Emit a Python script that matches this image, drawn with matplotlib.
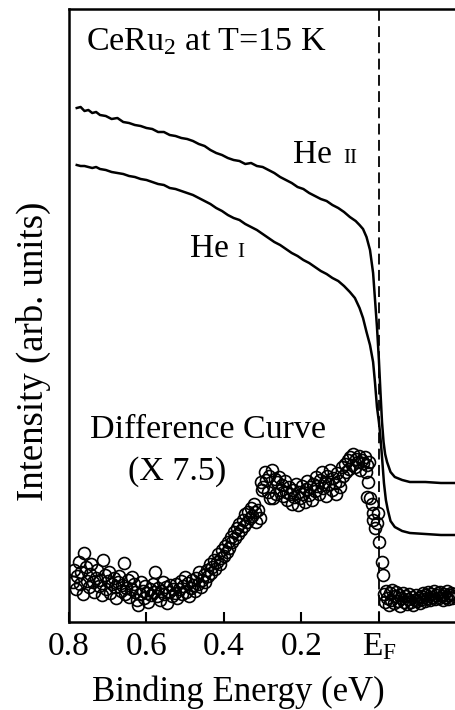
import matplotlib
matplotlib.use("Agg")
import matplotlib.pyplot as plt
import numpy as np

plt.rcParams["font.family"] = ["Liberation Serif", "DejaVu Serif"]
plt.rcParams["mathtext.fontset"] = "custom"
plt.rcParams["mathtext.rm"] = "Liberation Serif"
plt.rcParams["mathtext.it"] = "Liberation Serif:italic"

# He II spectrum (binding energy in eV, intensity in arb. units)
he2_energy = [0.780, 0.770, 0.760, 0.750, 0.740, 0.730, 0.720, 0.705, 0.690, 0.675,
              0.660, 0.645, 0.630, 0.615, 0.600, 0.585, 0.570, 0.555, 0.540, 0.525,
              0.510, 0.495, 0.480, 0.465, 0.450, 0.435, 0.420, 0.405, 0.390, 0.375,
              0.360, 0.345, 0.330, 0.315, 0.300, 0.285, 0.270, 0.255, 0.240, 0.225,
              0.210, 0.195, 0.180, 0.165, 0.150, 0.135, 0.120, 0.105, 0.090, 0.075,
              0.060, 0.050, 0.041, 0.032, 0.023, 0.015, 0.010, 0.005, 0.000, -0.004,
              -0.008, -0.012, -0.016, -0.021, -0.030, -0.041, -0.060, -0.080, -0.120,
              -0.160, -0.199]
he2_int = [514, 515, 511, 512, 509, 510, 507, 506, 503, 504,
           500, 499, 497, 496, 494, 493, 490, 490, 487, 486,
           484, 483, 481, 478, 476, 472, 469, 467, 464, 462,
           461, 458, 459, 456, 455, 452, 449, 445, 442, 439,
           435, 433, 429, 426, 423, 421, 417, 414, 410, 405,
           401, 397, 393, 385, 372, 349, 322, 295, 262, 230,
           200, 180, 168, 160, 150, 145, 142, 140, 140,
           139, 139]

# He I spectrum
he1_energy = [0.780, 0.770, 0.760, 0.750, 0.740, 0.730, 0.720, 0.705, 0.690, 0.675,
              0.660, 0.645, 0.630, 0.615, 0.600, 0.585, 0.570, 0.555, 0.540, 0.525,
              0.510, 0.495, 0.480, 0.465, 0.450, 0.435, 0.420, 0.405, 0.390, 0.375,
              0.360, 0.345, 0.330, 0.315, 0.300, 0.285, 0.270, 0.255, 0.240, 0.225,
              0.210, 0.195, 0.180, 0.165, 0.150, 0.135, 0.120, 0.105, 0.090, 0.075,
              0.062, 0.050, 0.041, 0.032, 0.023, 0.015, 0.010, 0.005, 0.000, -0.003,
              -0.008, -0.013, -0.018, -0.023, -0.030, -0.041, -0.060, -0.080, -0.120,
              -0.160, -0.199]
he1_int = [457, 456, 456, 455, 454, 455, 453, 452, 450, 449,
           448, 446, 445, 443, 442, 440, 438, 437, 434, 433,
           431, 429, 427, 424, 421, 418, 414, 411, 407, 404,
           402, 398, 395, 392, 388, 384, 380, 377, 373, 369,
           366, 362, 359, 355, 351, 348, 344, 341, 336, 330,
           324, 314, 304, 290, 277, 260, 239, 215, 200, 189,
           165, 139, 122, 112, 101, 95, 91, 89, 88,
           87, 87]

# difference curve (He II - He I, x 7.5)
diff_energy = [0.790, 0.786, 0.783, 0.779, 0.775, 0.771, 0.768, 0.764, 0.761, 0.757,
               0.753, 0.749, 0.746, 0.742, 0.738, 0.735, 0.731, 0.727, 0.723, 0.719,
               0.716, 0.712, 0.708, 0.704, 0.700, 0.697, 0.693, 0.689, 0.685, 0.682,
               0.678, 0.674, 0.670, 0.667, 0.663, 0.659, 0.655, 0.652, 0.648, 0.644,
               0.640, 0.637, 0.633, 0.629, 0.625, 0.622, 0.618, 0.614, 0.610, 0.607,
               0.603, 0.599, 0.595, 0.592, 0.588, 0.584, 0.580, 0.577, 0.573, 0.569,
               0.565, 0.562, 0.558, 0.554, 0.550, 0.546, 0.543, 0.539, 0.535, 0.531,
               0.527, 0.524, 0.520, 0.516, 0.512, 0.509, 0.505, 0.501, 0.497, 0.494,
               0.490, 0.486, 0.482, 0.479, 0.475, 0.471, 0.467, 0.464, 0.460, 0.456,
               0.452, 0.448, 0.445, 0.441, 0.437, 0.434, 0.430, 0.426, 0.422, 0.419,
               0.415, 0.411, 0.408, 0.404, 0.400, 0.397, 0.393, 0.389, 0.386, 0.382,
               0.378, 0.375, 0.371, 0.367, 0.364, 0.360, 0.356, 0.352, 0.349, 0.345,
               0.341, 0.338, 0.334, 0.330, 0.327, 0.323, 0.319, 0.316, 0.312, 0.308,
               0.305, 0.302, 0.298, 0.295, 0.291, 0.287, 0.284, 0.280, 0.276, 0.273,
               0.269, 0.265, 0.262, 0.258, 0.254, 0.251, 0.247, 0.243, 0.240, 0.236,
               0.232, 0.229, 0.225, 0.221, 0.218, 0.214, 0.210, 0.207, 0.203, 0.199,
               0.196, 0.192, 0.188, 0.185, 0.181, 0.177, 0.174, 0.170, 0.166, 0.162,
               0.159, 0.155, 0.151, 0.148, 0.144, 0.140, 0.137, 0.133, 0.129, 0.125,
               0.122, 0.118, 0.114, 0.111, 0.107, 0.103, 0.100, 0.096, 0.092, 0.088,
               0.085, 0.081, 0.077, 0.074, 0.070, 0.066, 0.063, 0.059, 0.055, 0.052,
               0.048, 0.044, 0.041, 0.037, 0.033, 0.030, 0.026, 0.031, 0.028, 0.023,
               0.018, 0.015, 0.015, 0.010, 0.005, 0.003, 0.000, -0.008, -0.010,
               -0.012, -0.015, -0.018, -0.022, -0.025, -0.028, -0.032, -0.035, -0.038,
               -0.042, -0.045, -0.048, -0.052, -0.055, -0.058, -0.062, -0.065, -0.068,
               -0.072, -0.075, -0.078, -0.082, -0.085, -0.088, -0.092, -0.095, -0.098,
               -0.102, -0.105, -0.108, -0.112, -0.115, -0.118, -0.122, -0.125, -0.128,
               -0.132, -0.135, -0.138, -0.142, -0.145, -0.148, -0.152, -0.155, -0.158,
               -0.162, -0.165, -0.168, -0.172, -0.175, -0.178, -0.182, -0.185, -0.188,
               -0.192, -0.195]
diff_int = [40, 52, 33, 46, 60, 38, 50, 28, 69, 55,
            41, 35, 48, 58, 40, 30, 44, 52, 36, 42,
            27, 62, 47, 33, 41, 50, 29, 38, 44, 35,
            24, 40, 46, 31, 37, 59, 28, 34, 42, 25,
            33, 45, 38, 30, 22, 17, 28, 40, 31, 24,
            36, 29, 20, 33, 27, 38, 30, 50, 26, 34,
            22, 31, 40, 28, 35, 19, 30, 37, 26, 33,
            29, 38, 24, 33, 41, 28, 36, 45, 30, 39,
            26, 34, 42, 37, 31, 44, 38, 50, 35, 42,
            47, 40, 52, 46, 58, 49, 55, 62, 53, 60,
            68, 58, 64, 72, 66, 76, 70, 80, 74, 85,
            80, 90, 84, 94, 88, 98, 92, 102, 96, 108,
            100, 110, 104, 114, 106, 118, 110, 100, 112, 104,
            140, 132, 135, 150, 142, 130, 146, 124, 152, 124,
            143, 128, 140, 145, 132, 137, 126, 141, 130, 122,
            135, 128, 118, 132, 125, 138, 117, 130, 124, 136,
            128, 120, 133, 141, 127, 135, 122, 138, 131, 145,
            136, 128, 142, 150, 134, 140, 126, 146, 138, 152,
            132, 144, 139, 128, 149, 141, 135, 155, 146, 158,
            150, 162, 153, 165, 157, 168, 155, 163, 160, 166,
            152, 162, 159, 165, 150, 157, 160, 125, 140, 124,
            118, 109, 102, 94, 99, 109, 80, 60, 47,
            28, 20, 31, 24, 17, 29, 22, 32, 19,
            26, 30, 21, 27, 16, 24, 29, 20, 26,
            18, 23, 28, 20, 25, 17, 22, 27, 21,
            24, 19, 26, 23, 29, 21, 27, 24, 30,
            22, 28, 25, 31, 23, 27, 29, 24, 30,
            26, 22, 28, 25, 31, 23, 27, 29, 24,
            28, 26]

xticks = [0.8, 0.6, 0.4, 0.2, 0.0]
xticklabels = ["0.8", "0.6", "0.4", "0.2", r"E$_\mathrm{F}$"]

fig = plt.figure(figsize=(4.56, 7.10), dpi=100)
ax = fig.add_axes([69 / 456, 88 / 710, 1 - 69 / 456, 613 / 710])

# spectra
ax.plot(he2_energy, he2_int, color="black", lw=1.8)
ax.plot(he1_energy, he1_int, color="black", lw=1.8)
ax.plot(diff_energy, diff_int, "o", ms=8.6, mfc="none", mec="black", mew=1.2)

# Fermi level
ax.axvline(0.0, color="black", lw=1.3, ls=(0, (6, 3)))

ax.set_xlim(0.8, -0.199)
ax.set_ylim(0, 613)

ax.set_xticks(xticks)
ax.set_xticklabels(xticklabels)
ax.set_yticks([])
ax.tick_params(axis="x", direction="in", length=7, width=1.5, pad=7, labelsize=24)

for side in ["left", "bottom", "top"]:
    ax.spines[side].set_linewidth(1.8)
ax.spines["right"].set_visible(False)

ax.set_xlabel("Binding Energy (eV)", fontsize=25, va="center", ha="center")
ax.xaxis.set_label_coords(0.437, -0.114)
ax.set_ylabel("Intensity (arb. units)", fontsize=26.5, va="center", ha="center")
ax.yaxis.set_label_coords(-0.093, 0.442)

# labels
ax.text(0.755, 580, r"CeRu$_2$ at T=15 K", fontsize=24.5, va="center", ha="left")
ax.text(0.222, 459, "He", fontsize=24, va="baseline")
ax.text(0.093, 459, "II", fontsize=15, va="baseline")
ax.text(0.488, 365, "He", fontsize=24, va="baseline")
ax.text(0.366, 365, "I", fontsize=15, va="baseline")
ax.text(0.44, 192, "Difference Curve", fontsize=24.5, va="center", ha="center")
ax.text(0.52, 150, "(X 7.5)", fontsize=24.5, va="center", ha="center")

fig.savefig("out.png", dpi=100)
